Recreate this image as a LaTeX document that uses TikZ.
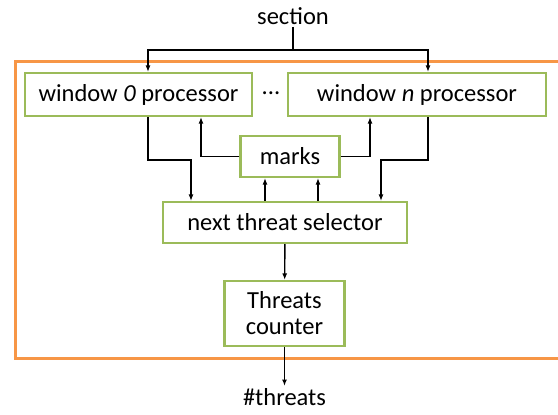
\documentclass[tikz,border=0pt]{standalone}
\usepackage{fontspec}
\setmainfont{Carlito}
\usetikzlibrary{arrows.meta}
\usetikzlibrary{positioning}

\definecolor{boxgreen}{RGB}{155,187,89}
\definecolor{frameorange}{RGB}{247,150,70}

\begin{document}
\begin{tikzpicture}[
x=1pt, y=-1pt,
blk/.style={
draw=boxgreen,
line width=2.2pt,
fill=white,
inner sep=0pt,
align=center,
font=\fontsize{24.5}{26}\selectfont
},
lbl/.style={
inner sep=2pt,
font=\fontsize{24.5}{26}\selectfont
},
arr/.style={
-{Latex[length=6.5pt,width=5pt]},
line width=1.4pt
}
]
\useasboundingbox (0,0) rectangle (558,415);

% frame, open on the right
\draw[frameorange, line width=3pt] (558,61) -- (15,61) -- (15,358) -- (558,358);

\node[lbl] (sec) at (293,16) {section};
\node[blk, minimum width=227pt, minimum height=43pt] (w0) at (138.5,94.5) {window \textit{0} processor};
\node[lbl] (dots) at (271,93) {...};
\node[blk, minimum width=258pt, minimum height=43pt] (wn) at (417,94.5) {window \textit{n} processor};
\node[blk, minimum width=99pt, minimum height=41pt] (mk) at (290,156.5) {marks};
\node[blk, minimum width=244pt, minimum height=41pt] (sel) at (285,222.5) {next threat selector};
\node[blk, minimum width=120pt, minimum height=65pt] (cnt) at (284.5,313.5) {Threats\\counter};
\node[lbl, anchor=north] (out) at (284.5,386) {\#threats};

\coordinate (split) at (293,50);

\draw[line width=1.4pt] (sec.south) -- (split);
\draw[arr] (split) -| ([xshift=9.5pt]w0.north);
\draw[arr] (split) -| ([xshift=11pt]wn.north);

\draw[arr] ([xshift=9.5pt]w0.south) -- ++(0,43) -| ([xshift=-94pt]sel.north);
\draw[arr] ([xshift=11pt]wn.south) -- ++(0,43) -| ([xshift=96pt]sel.north);
\draw[arr] (mk.west) -| ([xshift=62.5pt]w0.south);
\draw[arr] (mk.east) -| ([xshift=-47pt]wn.south);

\draw[arr] ([xshift=-20pt]sel.north) -- ([xshift=-20pt]sel.north |- mk.south);
\draw[arr] ([xshift=33pt]sel.north) -- ([xshift=33pt]sel.north |- mk.south);

\draw[arr] (sel) -- (cnt);
\draw[arr] (cnt) -- (out);

\end{tikzpicture}
\end{document}
